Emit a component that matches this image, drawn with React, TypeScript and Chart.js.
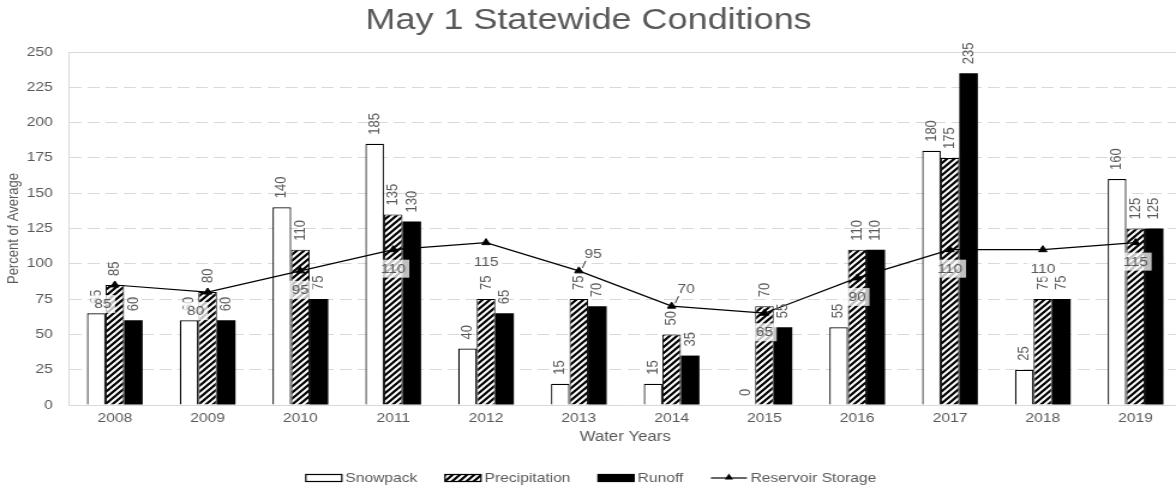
import React, { useEffect, useRef } from 'react';
import { Chart, registerables } from 'chart.js';

Chart.register(...registerables);

// ---------- data ----------
const years = ['2008', '2009', '2010', '2011', '2012', '2013', '2014', '2015', '2016', '2017', '2018', '2019'];
const snowpack = [65, 60, 140, 185, 40, 15, 15, 0, 55, 180, 25, 160];
const precipitation = [85, 80, 110, 135, 75, 75, 50, 70, 110, 175, 75, 125];
const runoff = [60, 60, 75, 130, 65, 70, 35, 55, 110, 235, 75, 125];
const reservoirStorage = [85, 80, 95, 110, 115, 95, 70, 65, 90, 110, 110, 115];
const yMin = 0;
const yMax = 250;
const yStep = 25;

const chartTitle = 'May 1 Statewide Conditions';
const xTitle = 'Water Years';
const yTitle = 'Percent of Average';

// ---------- style ----------
const FONT = "'Liberation Sans', Arial, Helvetica, sans-serif";
const TEXT = '#595959';
const GRID = '#d9d9d9';
const SX = 1.2; // horizontal stretch of the reference picture
const W = 990;
const H = 489;
const reservoirLabelPlacement = ['belowLeft', 'belowLeft', 'below', 'below', 'below', 'aboveRight', 'aboveRight', 'below', 'below', 'below', 'below', 'below'];

function makeHatch(): CanvasPattern | string {
  const s = 6;
  const c = document.createElement('canvas');
  c.width = s;
  c.height = s;
  const g = c.getContext('2d');
  if (!g) return '#777';
  g.fillStyle = '#fff';
  g.fillRect(0, 0, s, s);
  g.strokeStyle = '#000';
  g.lineWidth = 2.2;
  g.beginPath();
  g.moveTo(0, s);
  g.lineTo(s, 0);
  g.moveTo(-s / 2, s / 2);
  g.lineTo(s / 2, -s / 2);
  g.moveTo(s / 2, s * 1.5);
  g.lineTo(s * 1.5, s / 2);
  g.stroke();
  return g.createPattern(c, 'repeat') || '#777';
}

function drawTriangle(ctx: CanvasRenderingContext2D, x: number, y: number, r: number) {
  ctx.beginPath();
  ctx.moveTo(x, y - r);
  ctx.lineTo(x + r * Math.sin(Math.PI / 3), y + r * 0.5);
  ctx.lineTo(x - r * Math.sin(Math.PI / 3), y + r * 0.5);
  ctx.closePath();
  ctx.fill();
}

const decorPlugin = {
  id: 'decor',
  afterDatasetsDraw(chart: any) {
    const ctx = chart.ctx as CanvasRenderingContext2D;
    ctx.save();
    ctx.font = `13px ${FONT}`;
    ctx.fillStyle = TEXT;
    // bar value labels (rotated)
    chart.data.datasets.forEach((ds: any, d: number) => {
      if (ds.type === 'line') return;
      const meta = chart.getDatasetMeta(d);
      meta.data.forEach((el: any, i: number) => {
        const v = ds.data[i];
        ctx.save();
        ctx.translate(el.x, el.y - 9);
        ctx.rotate(-Math.PI / 2);
        ctx.textAlign = 'left';
        ctx.textBaseline = 'middle';
        ctx.fillStyle = TEXT;
        ctx.fillText(String(v), 0, 0);
        ctx.restore();
      });
    });
    // line value labels
    const li = chart.data.datasets.findIndex((ds: any) => ds.type === 'line');
    if (li >= 0) {
      const ds = chart.data.datasets[li];
      const meta = chart.getDatasetMeta(li);
      meta.data.forEach((el: any, i: number) => {
        const text = String(ds.data[i]);
        const place = reservoirLabelPlacement[i] || 'below';
        let dx = 0;
        let dy = 19;
        if (place === 'belowLeft') dx = -10;
        if (place === 'aboveRight') {
          dx = 12;
          dy = -17;
        }
        const tx = el.x + dx;
        const ty = el.y + dy;
        const w = ctx.measureText(text).width;
        if (place === 'aboveRight') {
          ctx.strokeStyle = '#222';
          ctx.lineWidth = 0.9;
          ctx.beginPath();
          ctx.moveTo(el.x + 3, el.y - 3);
          ctx.lineTo(tx - w / 2 + 1, ty + 7);
          ctx.stroke();
        } else {
          ctx.fillStyle = 'rgba(255,255,255,0.75)';
          ctx.fillRect(tx - w / 2 - 3, ty - 9, w + 6, 18);
        }
        ctx.fillStyle = TEXT;
        ctx.textAlign = 'center';
        ctx.textBaseline = 'middle';
        ctx.fillText(text, tx, ty + 0.5);
      });
    }
    ctx.restore();
  },
  afterDraw(chart: any) {
    const ctx = chart.ctx as CanvasRenderingContext2D;
    ctx.save();
    // title
    ctx.font = `30px ${FONT}`;
    ctx.fillStyle = TEXT;
    ctx.textAlign = 'center';
    ctx.textBaseline = 'alphabetic';
    ctx.fillText(chartTitle, 588.5 / SX, 29);

    // legend
    ctx.font = `13px ${FONT}`;
    const ds = chart.data.datasets;
    const boxW = 30;
    const boxH = 7;
    const gapBT = 3;
    const gapItem = 23;
    const widths = ds.map((d: any) => boxW + gapBT + ctx.measureText(d.label).width);
    const total = widths.reduce((a: number, b: number) => a + b, 0) + gapItem * (ds.length - 1);
    let x = 591 / SX - total / 2;
    const cy = 478;
    ds.forEach((d: any, i: number) => {
      if (d.type === 'line') {
        ctx.strokeStyle = '#000';
        ctx.lineWidth = 1.2;
        ctx.beginPath();
        ctx.moveTo(x, cy);
        ctx.lineTo(x + boxW, cy);
        ctx.stroke();
        ctx.fillStyle = '#000';
        drawTriangle(ctx, x + boxW / 2, cy - 0.5, 4);
      } else {
        ctx.fillStyle = d.backgroundColor;
        ctx.fillRect(x, cy - boxH / 2, boxW, boxH);
        ctx.strokeStyle = '#000';
        ctx.lineWidth = 1.2;
        ctx.strokeRect(x, cy - boxH / 2, boxW, boxH);
      }
      ctx.fillStyle = TEXT;
      ctx.textAlign = 'left';
      ctx.textBaseline = 'middle';
      ctx.fillText(d.label, x + boxW + gapBT, cy + 0.5);
      x += widths[i] + gapItem;
    });
    ctx.restore();
  },
};

export default function App() {
  const ref = useRef<HTMLCanvasElement | null>(null);

  useEffect(() => {
    if (!ref.current) return;
    const hatch = makeHatch();
    const chart = new Chart(ref.current, {
      type: 'bar',
      data: {
        labels: years,
        datasets: [
          {
            type: 'bar',
            label: 'Snowpack',
            data: snowpack,
            backgroundColor: '#ffffff',
            borderColor: '#000000',
            borderWidth: 1.2,
            order: 1,
          },
          {
            type: 'bar',
            label: 'Precipitation',
            data: precipitation,
            backgroundColor: hatch as any,
            borderColor: '#000000',
            borderWidth: 1,
            order: 1,
          },
          {
            type: 'bar',
            label: 'Runoff',
            data: runoff,
            backgroundColor: '#000000',
            borderColor: '#000000',
            borderWidth: 0,
            order: 1,
          },
          {
            type: 'line',
            label: 'Reservoir Storage',
            data: reservoirStorage,
            borderColor: '#000000',
            backgroundColor: '#000000',
            borderWidth: 1.2,
            pointStyle: 'triangle',
            pointRadius: 4,
            pointBorderWidth: 1,
            pointBackgroundColor: '#000000',
            pointBorderColor: '#000000',
            tension: 0,
            fill: false,
            order: 0,
          },
        ] as any,
      },
      options: {
        animation: false,
        responsive: false,
        devicePixelRatio: 1,
        events: [],
        layout: { padding: { top: 52, right: 4, bottom: 39, left: 0 } },
        datasets: {
          bar: { categoryPercentage: 0.6, barPercentage: 1.0 },
        },
        plugins: {
          legend: { display: false },
          title: { display: false },
          tooltip: { enabled: false },
        },
        scales: {
          x: {
            grid: { display: false, drawTicks: false },
            border: { display: true, color: GRID, width: 1 },
            ticks: {
              color: TEXT,
              font: { family: FONT, size: 13 },
              padding: 6,
              maxRotation: 0,
              autoSkip: false,
            },
            title: {
              display: true,
              text: xTitle,
              color: TEXT,
              font: { family: FONT, size: 14 },
              padding: { top: 4, bottom: 4 },
            },
            afterFit: (scale: any) => {
              scale.height = 45;
            },
          },
          y: {
            min: yMin,
            max: yMax,
            grid: {
              drawTicks: false,
              color: (c: any) => (c.tick && c.tick.value === yMin ? 'rgba(0,0,0,0)' : GRID),
              lineWidth: 1,
            },
            border: {
              display: true,
              color: GRID,
              width: 1,
              dash: (c: any) => (c.tick && c.tick.value === yMax ? [] : [10, 5]),
            } as any,
            ticks: {
              stepSize: yStep,
              color: TEXT,
              font: { family: FONT, size: 13 },
              padding: 13,
            },
            title: {
              display: true,
              text: yTitle,
              color: TEXT,
              font: { family: FONT, size: 13 },
              padding: { top: 4, bottom: 4 },
            },
            afterFit: (scale: any) => {
              scale.width = 57;
            },
          },
        },
      } as any,
      plugins: [decorPlugin as any],
    });
    return () => chart.destroy();
  }, []);

  return (
    <div
      style={{
        position: 'fixed',
        left: 0,
        top: 0,
        width: 1176,
        height: H,
        overflow: 'hidden',
        background: '#ffffff',
      }}
    >
      <canvas
        ref={ref}
        width={W}
        height={H}
        style={{ width: `${W * SX}px`, height: `${H}px`, display: 'block' }}
      />
    </div>
  );
}
